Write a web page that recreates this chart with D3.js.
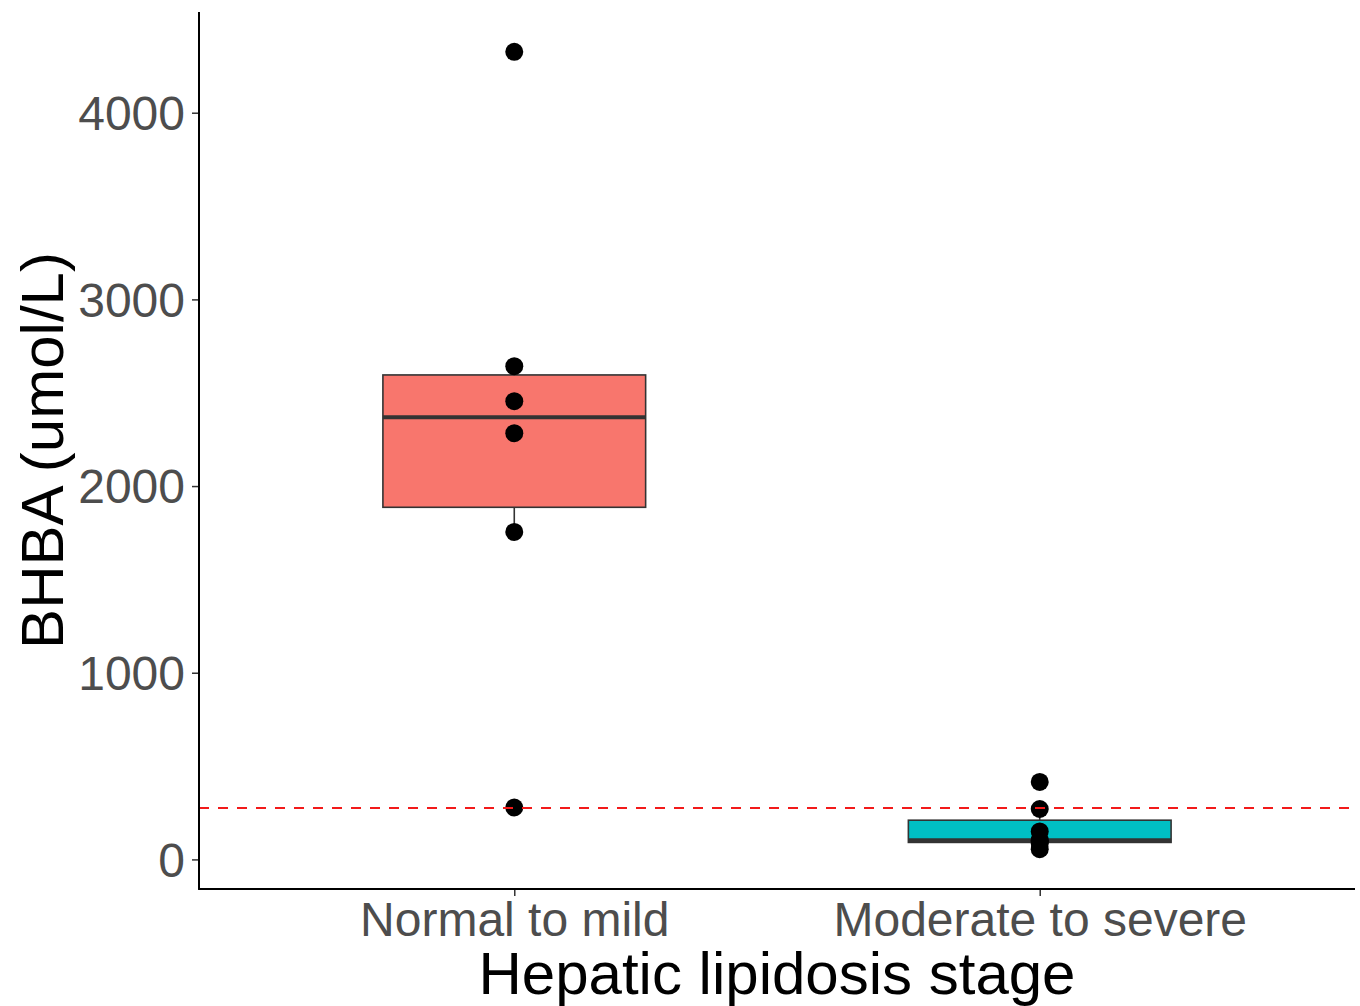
<!DOCTYPE html>
<html>
<head>
<meta charset="utf-8">
<script src="https://cdn.jsdelivr.net/npm/d3@7"></script>
<style>
  body { margin: 0; background: #fff; }
  text { font-family: "Liberation Sans", Arial, sans-serif; }
</style>
</head>
<body>
<svg id="chart" width="1360" height="1006"></svg>
<script>
// groups and values (BHBA, umol/L)
var stages = ["Normal to mild", "Moderate to severe"];
var stageColors = ["#F8766D", "#00BFC4"];
var normalToMild = [4326, 2642, 2455, 2283, 1754, 278];
var moderateToSevere = [415, 270, 150, 103, 97, 85, 55];
var cutoff = 275;
var yTicks = [0, 1000, 2000, 3000, 4000];

var groups = [
    {stage: stages[0], values: normalToMild, fill: stageColors[0]},
    {stage: stages[1], values: moderateToSevere, fill: stageColors[1]}
];

var svg = d3.select("#chart");
var plotLeft = 199, plotRight = 1355, plotTop = 12, plotBottom = 889;

// ggplot style 5% expansion on continuous y
var all = normalToMild.concat(moderateToSevere);
var lo = d3.min(all), hi = d3.max(all);
var pad = (hi - lo) * 0.05;
var y = d3.scaleLinear().domain([lo - pad, hi + pad]).range([plotBottom, plotTop]);

// discrete x: categories at 1..n, expand 0.6 either side
var x = d3.scaleLinear().domain([0.4, stages.length + 0.6]).range([plotLeft, plotRight]);
function xPos(stage) { return x(stages.indexOf(stage) + 1); }
var halfBox = (x(1.25) - x(1));

// box stats
groups.forEach(function(g) {
    var s = g.values.slice().sort(d3.ascending);
    g.q1 = d3.quantile(s, 0.25);
    g.med = d3.quantile(s, 0.5);
    g.q3 = d3.quantile(s, 0.75);
    var iqr = g.q3 - g.q1;
    g.lowW = d3.min(s.filter(function(v) { return v >= g.q1 - 1.5 * iqr; }));
    g.highW = d3.max(s.filter(function(v) { return v <= g.q3 + 1.5 * iqr; }));
});

var boxes = svg.append("g").attr("class", "boxes")
    .selectAll("g").data(groups).enter().append("g");

boxes.append("line")
    .attr("x1", function(d) { return xPos(d.stage); })
    .attr("x2", function(d) { return xPos(d.stage); })
    .attr("y1", function(d) { return y(d.highW); })
    .attr("y2", function(d) { return y(d.q3); })
    .style("stroke", "#333").style("stroke-width", 1.6);
boxes.append("line")
    .attr("x1", function(d) { return xPos(d.stage); })
    .attr("x2", function(d) { return xPos(d.stage); })
    .attr("y1", function(d) { return y(d.q1); })
    .attr("y2", function(d) { return y(d.lowW); })
    .style("stroke", "#333").style("stroke-width", 1.6);

boxes.append("rect")
    .attr("x", function(d) { return xPos(d.stage) - halfBox; })
    .attr("width", halfBox * 2)
    .attr("y", function(d) { return y(d.q3); })
    .attr("height", function(d) { return y(d.q1) - y(d.q3); })
    .style("fill", function(d) { return d.fill; })
    .style("stroke", "#333").style("stroke-width", 1.6);

boxes.append("line")
    .attr("x1", function(d) { return xPos(d.stage) - halfBox; })
    .attr("x2", function(d) { return xPos(d.stage) + halfBox; })
    .attr("y1", function(d) { return y(d.med); })
    .attr("y2", function(d) { return y(d.med); })
    .style("stroke", "#333").style("stroke-width", 4);

// points
var pts = [];
groups.forEach(function(g) {
    g.values.forEach(function(v) { pts.push({stage: g.stage, v: v}); });
});
svg.append("g").attr("class", "points")
    .selectAll("circle").data(pts).enter().append("circle")
    .attr("cx", function(d) { return xPos(d.stage); })
    .attr("cy", function(d) { return y(d.v); })
    .attr("r", 9)
    .style("fill", "#000");

// cutoff line
svg.append("line")
    .attr("x1", plotLeft).attr("x2", plotRight)
    .attr("y1", y(cutoff)).attr("y2", y(cutoff))
    .style("stroke", "#F21A1A")
    .style("stroke-width", 2)
    .style("stroke-dasharray", "10,9");

// axes
var yAxis = svg.append("g")
    .attr("transform", "translate(" + plotLeft + ",0)")
    .call(d3.axisLeft(y).tickValues(yTicks).tickSize(7).tickPadding(7).tickFormat(d3.format("d")));
var xAxis = svg.append("g")
    .attr("transform", "translate(0," + plotBottom + ")")
    .call(d3.axisBottom(x).tickValues(d3.range(1, stages.length + 1)).tickSize(7).tickPadding(5)
        .tickFormat(function(d) { return stages[d - 1]; }));

[yAxis, xAxis].forEach(function(a) {
    a.select(".domain").remove();
    a.selectAll(".tick line").style("stroke", "#333").style("stroke-width", 1.5);
    a.selectAll(".tick text")
        .style("fill", "#4D4D4D")
        .style("font-size", "48px")
        .style("font-family", "'Liberation Sans', Arial, sans-serif");
});
yAxis.selectAll(".tick text").attr("dy", "0.35em");
xAxis.selectAll(".tick text").attr("dy", "0.72em");

svg.append("line")
    .attr("x1", plotLeft).attr("x2", plotLeft).attr("y1", plotTop).attr("y2", plotBottom + 0.8)
    .style("stroke", "#000").style("stroke-width", 2);
svg.append("line")
    .attr("x1", plotLeft - 0.8).attr("x2", plotRight).attr("y1", plotBottom).attr("y2", plotBottom)
    .style("stroke", "#000").style("stroke-width", 2);

// titles
svg.append("text")
    .attr("x", (plotLeft + plotRight) / 2)
    .attr("y", 994)
    .attr("text-anchor", "middle")
    .style("font-size", "60px")
    .style("fill", "#000")
    .text("Hepatic lipidosis stage");

svg.append("text")
    .attr("transform", "translate(63," + (plotTop + plotBottom) / 2 + ") rotate(-90)")
    .attr("text-anchor", "middle")
    .style("font-size", "60px")
    .style("fill", "#000")
    .text("BHBA (umol/L)");
</script>
</body>
</html>
